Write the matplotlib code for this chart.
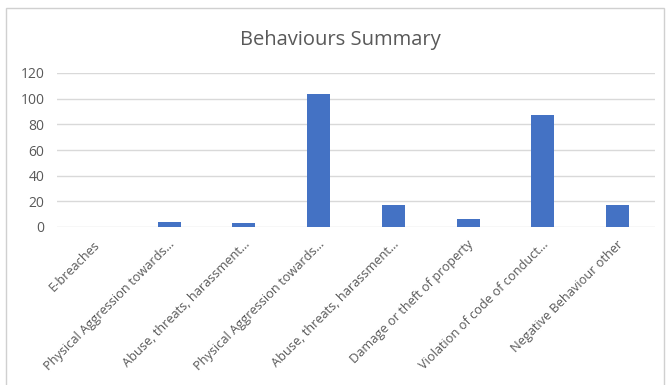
import matplotlib.pyplot as plt
import matplotlib.transforms as mtransforms
from matplotlib.patches import Rectangle

plt.rcParams['font.family'] = ['Open Sans', 'DejaVu Sans']

# 数据
categories = [
    'E-breaches',
    'Physical Aggression towards...',
    'Abuse, threats, harassment...',
    'Physical Aggression towards...',
    'Abuse, threats, harassment...',
    'Damage or theft of property',
    'Violation of code of conduct...',
    'Negative Behaviour other',
]
counts = [0, 4, 3, 104, 17, 6, 87, 17]
y_ticks = [0, 20, 40, 60, 80, 100, 120]

TEXT_GREY = '#595959'
BAR_BLUE = '#4472C4'

fig = plt.figure(figsize=(6.68, 3.85), dpi=100)
ax = fig.add_axes([57 / 668, 1 - 227 / 385, 598 / 668, 154 / 385])

x = list(range(len(categories)))
ax.bar(x, counts, width=0.31, color=BAR_BLUE, zorder=3)

ax.set_xlim(-0.5, len(categories) - 0.5)
ax.set_ylim(0, 120)
ax.set_yticks(y_ticks)
ax.set_yticklabels([str(v) for v in y_ticks], fontsize=10, color=TEXT_GREY)
ax.set_xticks(x)
ax.set_xticklabels(categories, rotation=45, ha='right', va='baseline',
                   rotation_mode='anchor', fontsize=9.2, color=TEXT_GREY)
ax.tick_params(axis='both', length=0)
ax.tick_params(axis='y', pad=9)
ax.tick_params(axis='x', pad=13)

# 斜标签整体右移一点
shift = mtransforms.ScaledTranslation(6 / 100, 0, fig.dpi_scale_trans)
for lbl in ax.get_xticklabels():
    lbl.set_transform(lbl.get_transform() + shift)

ax.grid(axis='y', color='#D9D9D9', linewidth=1.0, zorder=0)
for s in ax.spines.values():
    s.set_visible(False)

fig.text(340 / 668, 1 - 40 / 385, 'Behaviours Summary', ha='center', va='center',
         fontsize=14.5, color=TEXT_GREY)

# 外框
fig.patches.append(Rectangle((6 / 668, -0.05), 658 / 668, 1 - 8 / 385 + 0.05,
                             transform=fig.transFigure, fill=False,
                             edgecolor='#D0D0D0', linewidth=1.0))

fig.savefig('out.png', dpi=100)
